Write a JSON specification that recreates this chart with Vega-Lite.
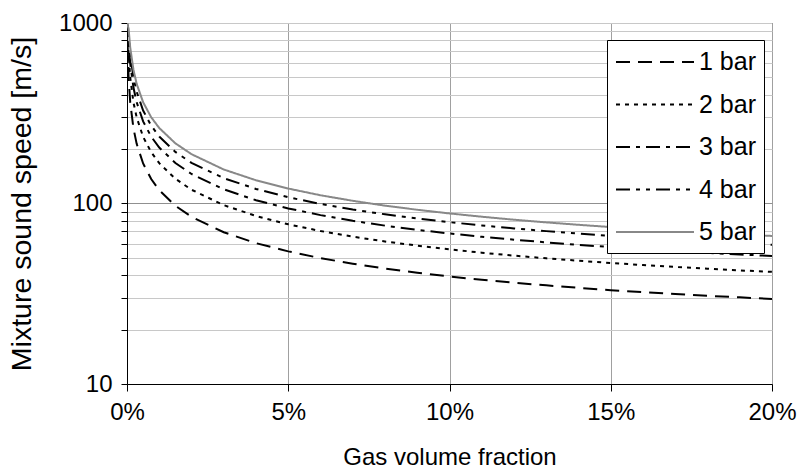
{
  "$schema": "https://vega.github.io/schema/vega-lite/v6.json",
  "width": 645,
  "height": 361,
  "autosize": {"type": "none"},
  "padding": {"left": 127, "top": 23, "right": 26, "bottom": 92},
  "background": "white",
  "config": {
    "font": "Liberation Sans",
    "view": {"stroke": "#000", "strokeWidth": 1}
  },
  "data": {
    "values": [
      {"a": 0, "1 bar": 1000, "2 bar": 1000, "3 bar": 1000, "4 bar": 1000, "5 bar": 1000},
      {"a": 0.0005, "1 bar": 499, "2 bar": 670, "3 bar": 782, "4 bar": 865, "5 bar": 929},
      {"a": 0.001, "1 bar": 363, "2 bar": 499, "3 bar": 595, "4 bar": 670, "5 bar": 731},
      {"a": 0.002, "1 bar": 261, "2 bar": 363, "3 bar": 439, "4 bar": 500, "5 bar": 551},
      {"a": 0.003, "1 bar": 214, "2 bar": 300, "3 bar": 364, "4 bar": 416, "5 bar": 460},
      {"a": 0.005, "1 bar": 166.7, "2 bar": 234, "3 bar": 285, "4 bar": 327.5, "5 bar": 364},
      {"a": 0.0075, "1 bar": 136.6, "2 bar": 192.4, "3 bar": 234.7, "4 bar": 269.9, "5 bar": 300.5},
      {"a": 0.01, "1 bar": 118.6, "2 bar": 167.2, "3 bar": 204.1, "4 bar": 235.0, "5 bar": 261.9},
      {"a": 0.015, "1 bar": 97.1, "2 bar": 137.1, "3 bar": 167.6, "4 bar": 193.1, "5 bar": 215.5},
      {"a": 0.02, "1 bar": 84.4, "2 bar": 119.2, "3 bar": 145.7, "4 bar": 168.0, "5 bar": 187.6},
      {"a": 0.03, "1 bar": 69.3, "2 bar": 97.9, "3 bar": 119.8, "4 bar": 138.2, "5 bar": 154.3},
      {"a": 0.04, "1 bar": 60.3, "2 bar": 85.3, "3 bar": 104.3, "4 bar": 120.4, "5 bar": 134.5},
      {"a": 0.05, "1 bar": 54.3, "2 bar": 76.7, "3 bar": 93.9, "4 bar": 108.3, "5 bar": 121.0},
      {"a": 0.06, "1 bar": 49.8, "2 bar": 70.4, "3 bar": 86.2, "4 bar": 99.4, "5 bar": 111.1},
      {"a": 0.07, "1 bar": 46.4, "2 bar": 65.5, "3 bar": 80.2, "4 bar": 92.6, "5 bar": 103.5},
      {"a": 0.08, "1 bar": 43.6, "2 bar": 61.6, "3 bar": 75.4, "4 bar": 87.1, "5 bar": 97.3},
      {"a": 0.09, "1 bar": 41.3, "2 bar": 58.4, "3 bar": 71.5, "4 bar": 82.6, "5 bar": 92.3},
      {"a": 0.10, "1 bar": 39.4, "2 bar": 55.7, "3 bar": 68.2, "4 bar": 78.8, "5 bar": 88.1},
      {"a": 0.11, "1 bar": 37.8, "2 bar": 53.4, "3 bar": 65.4, "4 bar": 75.6, "5 bar": 84.5},
      {"a": 0.12, "1 bar": 36.4, "2 bar": 51.4, "3 bar": 63.0, "4 bar": 72.8, "5 bar": 81.3},
      {"a": 0.13, "1 bar": 35.2, "2 bar": 49.7, "3 bar": 60.9, "4 bar": 70.3, "5 bar": 78.6},
      {"a": 0.14, "1 bar": 34.1, "2 bar": 48.2, "3 bar": 59.0, "4 bar": 68.15, "5 bar": 76.2},
      {"a": 0.15, "1 bar": 33.1, "2 bar": 46.8, "3 bar": 57.35, "4 bar": 66.2, "5 bar": 74.05},
      {"a": 0.16, "1 bar": 32.3, "2 bar": 45.6, "3 bar": 55.85, "4 bar": 64.5, "5 bar": 72.1},
      {"a": 0.17, "1 bar": 31.5, "2 bar": 44.5, "3 bar": 54.5, "4 bar": 62.95, "5 bar": 70.4},
      {"a": 0.18, "1 bar": 30.8, "2 bar": 43.5, "3 bar": 53.3, "4 bar": 61.55, "5 bar": 68.8},
      {"a": 0.19, "1 bar": 30.2, "2 bar": 42.6, "3 bar": 52.2, "4 bar": 60.3, "5 bar": 67.4},
      {"a": 0.20, "1 bar": 29.6, "2 bar": 41.8, "3 bar": 51.2, "4 bar": 59.1, "5 bar": 66.1}
    ]
  },
  "transform": [
    {"fold": ["1 bar", "2 bar", "3 bar", "4 bar", "5 bar"], "as": ["series", "speed"]}
  ],
  "mark": {"type": "line", "clip": true},
  "encoding": {
    "x": {
      "field": "a",
      "type": "quantitative",
      "scale": {"domain": [0, 0.2], "nice": false, "zero": false},
      "axis": {
        "values": [0, 0.05, 0.1, 0.15, 0.2],
        "format": "%",
        "title": "Gas volume fraction",
        "labelFontSize": 24,
        "titleFontSize": 24,
        "titleFontWeight": "normal",
        "labelColor": "#000",
        "titleColor": "#000",
        "domainColor": "#000",
        "tickColor": "#000",
        "tickSize": 7,
        "labelPadding": 9,
        "titlePadding": 21,
        "labelFlush": false,
        "gridColor": "#a0a0a0"
      }
    },
    "y": {
      "field": "speed",
      "type": "quantitative",
      "scale": {"type": "log", "domain": [10, 1000], "nice": false},
      "axis": {
        "values": [10, 20, 30, 40, 50, 60, 70, 80, 90, 100, 200, 300, 400, 500, 600, 700, 800, 900, 1000],
        "format": "d",
        "labelExpr": "(datum.value == 10 || datum.value == 100 || datum.value == 1000) ? datum.label : ''",
        "title": "Mixture sound speed [m/s]",
        "labelFontSize": 24,
        "titleFontSize": 28.5,
        "titleFontWeight": "normal",
        "labelColor": "#000",
        "titleColor": "#000",
        "domainColor": "#000",
        "tickColor": "#000",
        "tickSize": 6,
        "labelPadding": 9,
        "titlePadding": 22,
        "gridColor": {"condition": {"test": "datum.value == 100", "value": "#909090"}, "value": "#c8c8c8"}
      }
    },
    "color": {
      "field": "series",
      "type": "nominal",
      "scale": {"domain": ["1 bar", "2 bar", "3 bar", "4 bar", "5 bar"], "range": ["#000000", "#000000", "#000000", "#000000", "#888888"]},
      "legend": {
        "orient": "none",
        "legendX": 480,
        "legendY": 17,
        "title": null,
        "symbolType": "M-3,0H3",
        "symbolSize": 676,
        "symbolOffset": 26,
        "labelOffset": 30,
        "labelFontSize": 25,
        "labelColor": "#000",
        "rowPadding": 15.5,
        "padding": 8,
        "strokeColor": "#000",
        "fillColor": "#ffffff",
        "cornerRadius": 0,
        "symbolFillColor": "transparent"
      }
    },
    "strokeDash": {
      "field": "series",
      "type": "nominal",
      "scale": {"domain": ["1 bar", "2 bar", "3 bar", "4 bar", "5 bar"], "range": [[14, 8], [4, 5], [14, 6, 4, 6], [14, 6, 4, 6, 4, 6], [1, 0]]}
    },
    "strokeWidth": {
      "field": "series",
      "type": "nominal",
      "scale": {"domain": ["1 bar", "2 bar", "3 bar", "4 bar", "5 bar"], "range": [2, 2, 2, 3, 2.5]}
    }
  }
}
